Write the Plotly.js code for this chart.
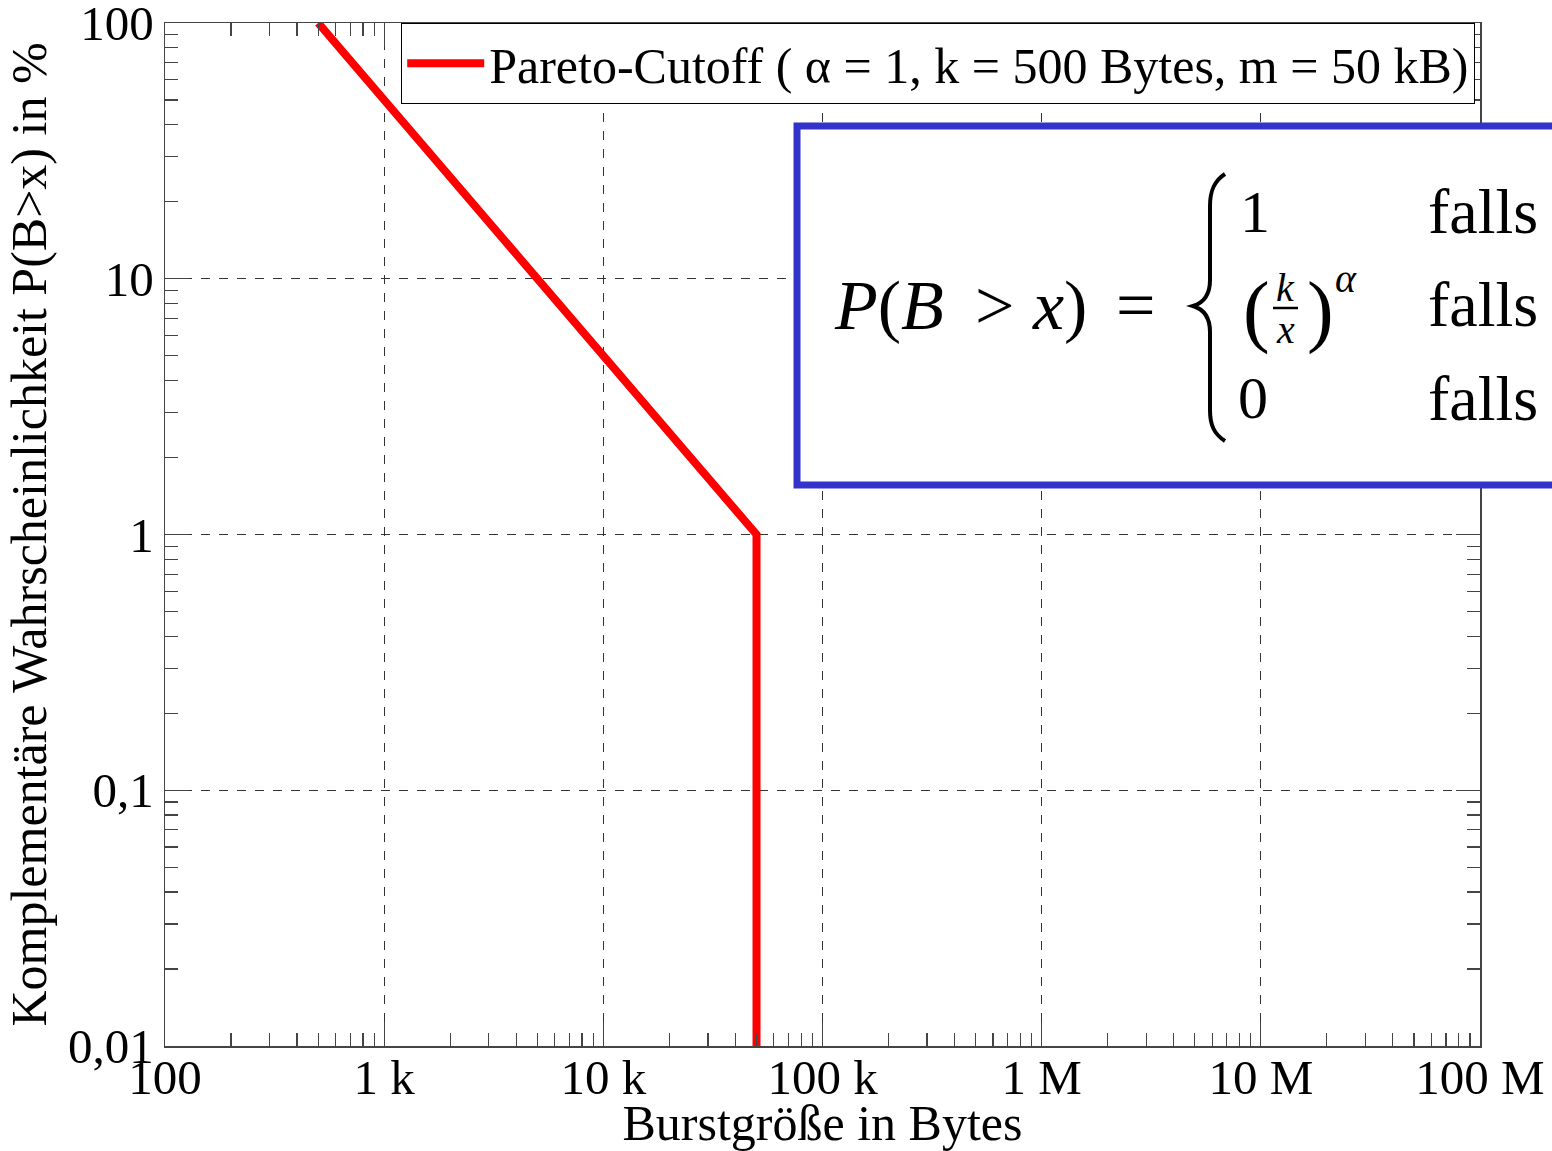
<!DOCTYPE html>
<html>
<head>
<meta charset="utf-8">
<script src="https://cdn.plot.ly/plotly-3.0.1.min.js"></script>
<style>html,body{margin:0;padding:0;background:#fff;}</style>
</head>
<body>
<div id="chart" style="width:1552px;height:1151px;"></div>
<script>
// ---- data ----
const burstBytes = [500, 50000, 50000];
const probPercent = [100, 1, 0.01];
const seriesName = 'Pareto-Cutoff ( \u03b1 = 1, k = 500 Bytes, m = 50 kB)';

const xTickVals = [1e2, 1e3, 1e4, 1e5, 1e6, 1e7, 1e8];
const xTickText = ['100', '1 k', '10 k', '100 k', '1 M', '10 M', '100 M'];
const yTickVals = [0.01, 0.1, 1, 10, 100];
const yTickText = ['0,01', '0,1', '1', '10', '100'];

const xTitle = 'Burstgröße in Bytes';
const yTitle = '\u2002Komplementäre Wahrscheinlichkeit P(B>x) in %';

// ---- layout helpers (pixel -> paper, for decorations only) ----
const L = 165, R = 1480, T = 23, B = 1046;
const PX = p => (p - L) / (R - L);
const PY = p => (B - p) / (B - T);

const FONT = 'Liberation Serif, Times New Roman, serif';
const axisCol = '#444';

function pathPx(cmds) {
  return cmds.map(c => {
    const l = c[0];
    const pts = [];
    for (let i = 1; i < c.length; i += 2) pts.push(PX(c[i]).toFixed(5) + ',' + PY(c[i + 1]).toFixed(5));
    return l + pts.join(' ');
  }).join(' ');
}

const bracePath = pathPx([
  ['M', 1225, 174],
  ['C', 1214, 181, 1210, 191, 1210, 206],
  ['L', 1210, 280],
  ['C', 1210, 295, 1203, 303, 1193, 306],
  ['C', 1203, 309, 1210, 317, 1210, 332],
  ['L', 1210, 410],
  ['C', 1210, 425, 1214, 434, 1225, 441]
]);

function ann(text, xp, yp, size, xanchor) {
  return {
    text: text, xref: 'paper', yref: 'paper', x: PX(xp), y: PY(yp),
    xanchor: xanchor || 'left', yanchor: 'middle', showarrow: false,
    font: {family: FONT, size: size, color: '#000'}
  };
}

const trace = {
  x: burstBytes, y: probPercent, type: 'scatter', mode: 'lines',
  name: seriesName,
  line: {color: '#ff0000', width: 8},
  hoverinfo: 'skip'
};

const axisCommon = {
  type: 'log',
  showline: true, linecolor: axisCol, linewidth: 1.5, mirror: 'ticks',
  ticks: 'inside', ticklen: 24, tickcolor: axisCol, tickwidth: 1.2,
  showgrid: true, gridcolor: '#333', griddash: 'dash', gridwidth: 1,
  zeroline: false,
  tickfont: {family: FONT, size: 49, color: '#000'},
  ticklabeloverflow: 'allow',
  tickmode: 'array',
  minor: {ticks: 'inside', ticklen: 13, tickcolor: axisCol, tickwidth: 1.2, dtick: 'D1', showgrid: false}
};

const layout = {
  width: 1552, height: 1151,
  margin: {l: L, r: 1552 - R, t: T, b: 1151 - B},
  paper_bgcolor: '#fff', plot_bgcolor: '#fff',
  showlegend: true,
  legend: {
    x: PX(401), y: 1, xanchor: 'left', yanchor: 'top',
    bgcolor: '#fff', bordercolor: '#000', borderwidth: 1.2,
    font: {family: FONT, size: 50, color: '#000'},
    itemwidth: 77
  },
  xaxis: Object.assign({}, axisCommon, {
    range: [2, 8], tickvals: xTickVals, ticktext: xTickText,
    ticklabelstandoff: -12,
    title: {text: xTitle, font: {family: FONT, size: 50, color: '#000'}, standoff: 4}
  }),
  yaxis: Object.assign({}, axisCommon, {
    range: [-2, 2], tickvals: yTickVals, ticktext: yTickText,
    title: {text: yTitle, font: {family: FONT, size: 50, color: '#000'}, standoff: 5}
  }),
  shapes: [
    {type: 'rect', xref: 'paper', yref: 'paper', x0: PX(797), x1: PX(1570), y0: PY(485), y1: PY(126),
     line: {color: '#3333cc', width: 7}, fillcolor: '#fff', layer: 'above'},
    {type: 'path', xref: 'paper', yref: 'paper', path: bracePath, line: {color: '#000', width: 4}, layer: 'above'},
    {type: 'line', xref: 'paper', yref: 'paper', x0: PX(1273), x1: PX(1298), y0: PY(308), y1: PY(308),
     line: {color: '#000', width: 2.5}, layer: 'above'}
  ],
  annotations: [
    ann('<i>P</i>(<i>B</i>', 832, 305, 70, 'left'),
    ann('&gt;', 995, 305, 70, 'center'),
    ann('<i>x</i>)', 1030, 305, 70, 'left'),
    ann('=', 1114, 305, 70, 'left'),
    ann('1', 1238, 212, 60, 'left'),
    ann('0', 1236, 398, 60, 'left'),
    ann('falls', 1426, 212, 64, 'left'),
    ann('falls', 1426, 304, 64, 'left'),
    ann('falls', 1426, 398, 64, 'left'),
    ann('(', 1241, 310, 80, 'left'),
    ann(')', 1305, 310, 80, 'left'),
    ann('<i>k</i>', 1285, 287, 40, 'center'),
    ann('<i>x</i>', 1285, 330, 40, 'center'),
    ann('<i>\u03b1</i>', 1333, 278, 40, 'left')
  ]
};

Plotly.newPlot('chart', [trace], layout, {displayModeBar: false, staticPlot: true});
</script>
</body>
</html>
